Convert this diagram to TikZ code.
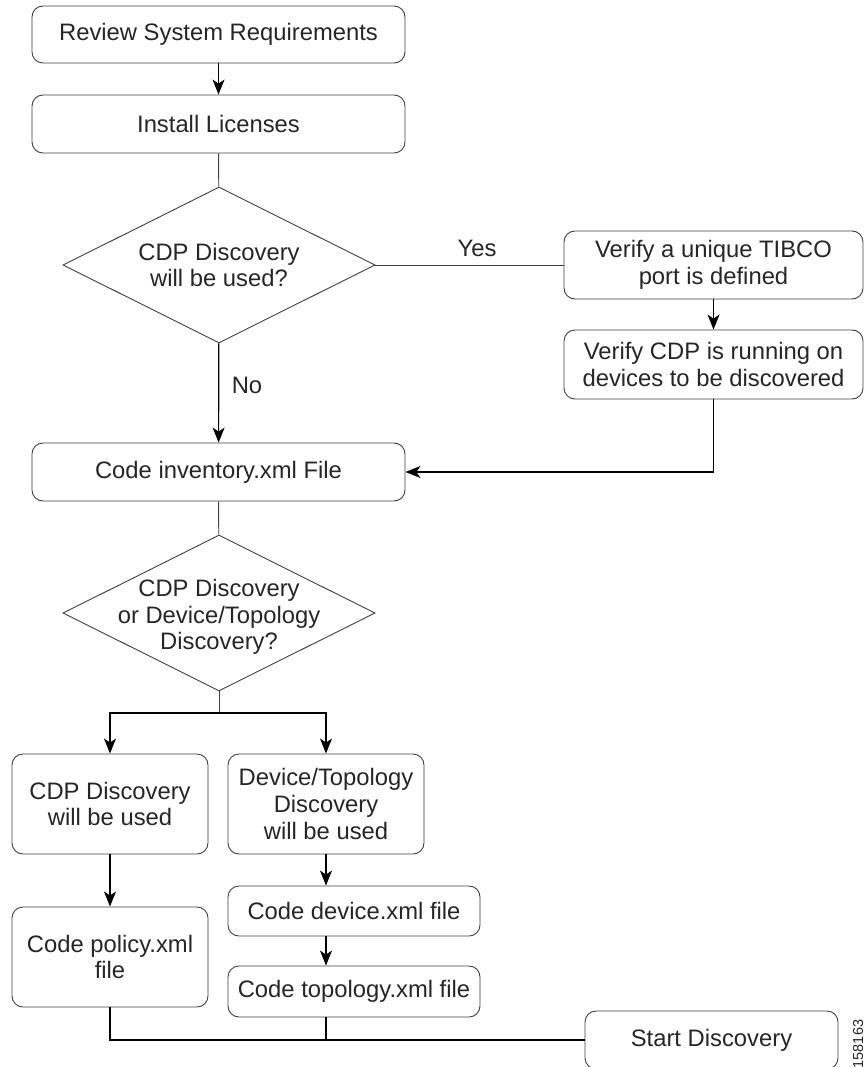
\documentclass[tikz,border=0pt]{standalone}
\usepackage{fontspec}
\setmainfont{Liberation Sans}
\usetikzlibrary{shapes.geometric,arrows.meta}
\begin{document}
\begin{tikzpicture}[x=1pt,y=-1pt,
  every node/.style={font=\fontsize{23.8}{26.7}\selectfont, text=black!85},
  box/.style={draw=black!75, line width=0.9pt, rounded corners=11pt, align=center, inner sep=0pt},
  decision/.style={draw=black!75, line width=0.9pt, diamond, aspect=2, inner sep=0pt, minimum width=312pt, minimum height=156pt},
  txt/.style={align=center, inner sep=0pt},
  conn/.style={draw=black, line width=1.2pt},
  arr/.style={conn, -{Stealth[length=15pt,width=12pt,inset=4pt]}},
  thin/.style={draw=black!75, line width=0.9pt}
]
\useasboundingbox (0,0) rectangle (864,1067);
\begin{scope}
\clip (0,0) rectangle (864,1067);
\node[box, minimum width=373pt, minimum height=57pt] (r1) at (218.5,34.5) {Review System Requirements};
\node[box, minimum width=373pt, minimum height=58pt] (r2) at (218.5,124) {Install Licenses};
\node[decision] (d1) at (219,265) {};
\node[txt] (d1t) at (219,265) {CDP Discovery\\will be used?};
\node[box, minimum width=299pt, minimum height=68pt] (t1) at (713.5,265) {Verify a unique TIBCO\\port is defined};
\node[box, minimum width=299pt, minimum height=69pt] (t2) at (713.5,364.5) {Verify CDP is running on\\devices to be discovered};
\node[box, minimum width=373pt, minimum height=58pt] (inv) at (218.5,472) {Code inventory.xml File};
\node[decision] (d2) at (219,613) {};
\node[txt] (d2t) at (219,617) {CDP Discovery\\or Device/Topology\\Discovery?};
\node[box, minimum width=196pt, minimum height=100pt] (c1) at (110,804) {CDP Discovery\\will be used};
\node[box, minimum width=196pt, minimum height=100pt] (c2) at (326,804) {Device/Topology\\Discovery\\will be used};
\node[box, minimum width=252pt, minimum height=50pt] (c3) at (354,911) {Code device.xml file};
\node[box, minimum width=252pt, minimum height=51pt] (c4) at (354,991.5) {Code topology.xml file};
\node[box, minimum width=196pt, minimum height=100pt] (c5) at (110,957) {Code policy.xml\\file};
\node[box, minimum width=253pt, minimum height=58pt] (sd) at (711.5,1040) {Start Discovery};
\node[txt, rotate=90, font=\fontsize{14.5}{16}\selectfont] (id) at (858,1044) {158163};

\node[txt] (yes) at (477,248) {Yes};
\node[txt] (no) at (247,385) {No};

\coordinate (j1) at (219,713);
\coordinate (j2) at (110,1040);
\coordinate (j3) at (326,1040);

\draw[arr] (r1) -- (r2);
\draw[thin] (r2) -- (d1);
\draw[thin] (d1.east) -- (t1.west);
\draw[arr] (t1) -- (t2);
\draw[arr] (d1) -- (inv);
\draw[arr] (t2.south) |- (inv.east);
\draw[thin] (inv) -- (d2);
\draw[thin] (d2.south) -- (j1);
\draw[arr] (j1) -| (c1.north);
\draw[arr] (j1) -| (c2.north);
\draw[arr] (c1) -- (c5);
\draw[arr] (c2.south) -- (c2.south |- c3.north);
\draw[arr] (c2.south |- c3.south) -- (c2.south |- c4.north);
\draw[conn] (c5.south) -- (j2) -- (sd.west);
\draw[conn] (c2.south |- c4.south) -- (j3);
\end{scope}
\end{tikzpicture}
\end{document}
